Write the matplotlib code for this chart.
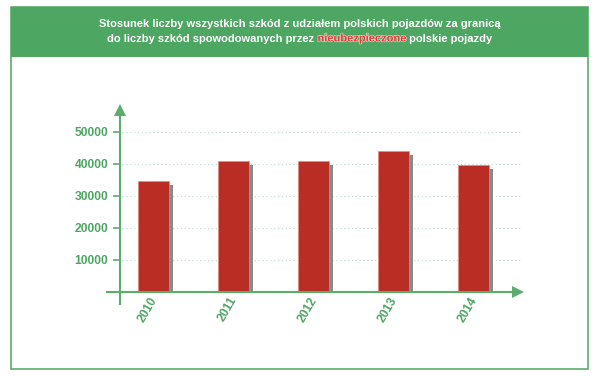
import numpy as np
import matplotlib
matplotlib.use("Agg")
import matplotlib.pyplot as plt
import matplotlib.patheffects as pe
from matplotlib.patches import Rectangle

years = ['2010', '2011', '2012', '2013', '2014']
values = [34700, 40900, 40900, 44100, 39700]
yticks = [10000, 20000, 30000, 40000, 50000]

title1 = 'Stosunek liczby wszystkich szkód z udziałem polskich pojazdów za granicą'
title2 = ['do liczby szkód spowodowanych przez ', 'nieubezpieczone', ' polskie pojazdy']

GREEN = '#4da662'
AXG = '#5aad6b'
RED = '#b92d24'
W, H = 600, 377

plt.rcParams['font.family'] = ['Liberation Sans', 'DejaVu Sans']

fig = plt.figure(figsize=(W / 100, H / 100), dpi=100)

def fx(px):
    return px / W

def fy(py):
    return 1 - py / H

# frame and header
fig.patches.append(Rectangle((fx(11), fy(369)), fx(588) - fx(11), fy(7) - fy(369),
                             transform=fig.transFigure, facecolor='white',
                             edgecolor=AXG, lw=1.2, zorder=-2))
fig.patches.append(Rectangle((fx(11), fy(57)), fx(588) - fx(11), fy(7) - fy(57),
                             transform=fig.transFigure, facecolor=GREEN,
                             edgecolor='none', zorder=-1))

fig.text(0.5, fy(24), title1, color='white', fontsize=8.0, fontweight='bold',
         ha='center', va='center')

# second title line with coloured word
renderer = fig.canvas.get_renderer()
parts = []
for s in title2:
    t = fig.text(0, fy(38.5), s, fontsize=8.0, fontweight='bold', ha='left', va='center')
    parts.append(t)
widths = [t.get_window_extent(renderer).width for t in parts]
x0 = W / 2 - sum(widths) / 2
for i, t in enumerate(parts):
    t.set_x(fx(x0 + sum(widths[:i])))
    if i == 1:
        t.set_color('#d8403c')
        t.set_path_effects([pe.withStroke(linewidth=0.9, foreground='#f6d0cc')])
    else:
        t.set_color('white')

# axes: pixel layout
left, right, bottom, top = 107, 525, 292, 105
ax = fig.add_axes([fx(left), fy(bottom), fx(right) - fx(left), fy(top) - fy(bottom)])
ax.set_facecolor('none')
x = np.arange(len(years))
step = 80.0
xmin = (left - 153.5) / step
xmax = (right - 153.5) / step
ymax = (bottom - top) / 32 * 10000
ax.set_xlim(xmin, xmax)
ax.set_ylim(0, ymax)

yaxis_x = (120 - 153.5) / step

# grid
ax.hlines(yticks, yaxis_x + 0.03, (520 - 153.5) / step, colors='#b8d6d2',
          linestyles=(0, (1, 2.5)), lw=0.8, zorder=1)

# bars with shadow
bw = 31 / step
off = 4 / step
ax.bar(x + off, np.array(values) - 1250, width=bw, color='#8a8a8a', zorder=2)
ax.bar(x, values, width=bw, color=RED, edgecolor='#e88a84', lw=0.5, zorder=3)

# spines
for s in ['top', 'right', 'bottom']:
    ax.spines[s].set_visible(False)
ax.spines['left'].set_position(('data', yaxis_x))
ax.spines['left'].set_color(AXG)
ax.spines['left'].set_linewidth(1.5)
ax.spines['left'].set_bounds(-12 / 32 * 10000, ymax - 1800)
ax.spines['left'].set_clip_on(False)

ax.plot([xmin, xmax - 0.1], [0, 0], color=AXG, lw=1.5, clip_on=False, zorder=4)
ax.plot([xmax - 0.09], [0], marker='>', color=AXG, ms=8, mew=0, clip_on=False, zorder=4)
ax.plot([yaxis_x], [ymax - 1700], marker='^', color=AXG, ms=8, mew=0, clip_on=False, zorder=4)

ax.set_yticks(yticks)
ax.set_yticklabels([str(v) for v in yticks])
ax.tick_params(axis='y', colors=AXG, length=5, width=1.2, pad=3.5, labelsize=8.7)
for lab in ax.get_yticklabels():
    lab.set_fontweight('bold')
    lab.set_color(GREEN)
ax.set_xticks([])

for i, yr in enumerate(years):
    ax.annotate(yr, xy=(x[i], 0), xytext=(4.4, -2.2), textcoords='offset points',
                rotation=60, ha='right', va='top', color=GREEN, fontsize=8.7,
                fontweight='bold', annotation_clip=False)

fig.savefig('out.png', dpi=100)
